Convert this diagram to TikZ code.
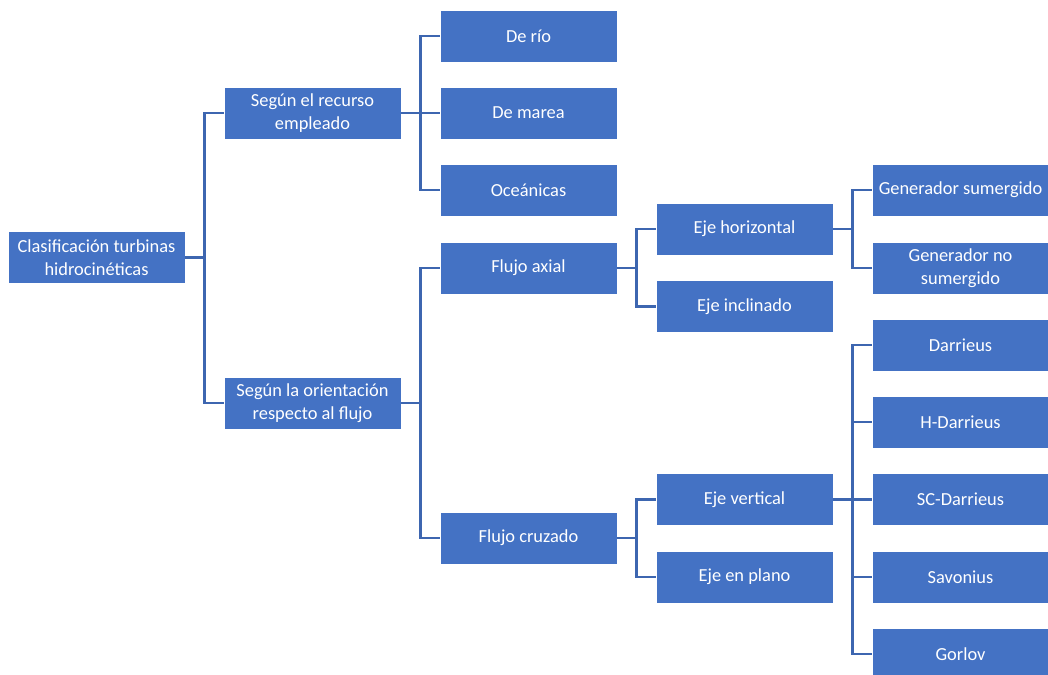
\documentclass[tikz,border=0pt]{standalone}
\usepackage{fontspec}
\setmainfont{Carlito}
\definecolor{boxblue}{HTML}{4472C4}
\definecolor{lineblue}{HTML}{3D66B0}
\begin{document}
\begin{tikzpicture}[x=1pt,y=-1pt,
  box/.style={fill=boxblue, draw=white, line width=0.8pt, text=white, anchor=west,
    minimum width=177pt, minimum height=52pt, inner sep=2pt, outer sep=0pt,
    align=center, font=\fontsize{18.4}{22.4}\selectfont},
  conn/.style={draw=lineblue, line width=2.6pt}]
\useasboundingbox (0,0) rectangle (1048,674);
\clip (0,0) rectangle (1048,674);
% level 0
\node[box] (root) at (8,257.5) {Clasificación turbinas\\hidrocinéticas};
% level 1
\node[box] (rec) at (224,113) {Según el recurso\\empleado};
\node[box] (ori) at (224,403) {Según la orientación\\respecto al flujo};
% level 2
\node[box] (rio) at (440,36) {De río};
\node[box] (mar) at (440,113) {De marea};
\node[box] (oce) at (440,190) {Oceánicas};
\node[box] (axi) at (440,268) {Flujo axial};
\node[box] (cru) at (440,538) {Flujo cruzado};
% level 3
\node[box] (hor) at (656,229) {Eje horizontal};
\node[box] (inc) at (656,306.5) {Eje inclinado};
\node[box] (ver) at (656,499.5) {Eje vertical};
\node[box] (pla) at (656,577) {Eje en plano};
% level 4
\node[box] (gsu) at (872,190) {Generador sumergido};
\node[box] (gns) at (872,268) {Generador no\\sumergido};
\node[box] (dar) at (872,345) {Darrieus};
\node[box] (hda) at (872,422) {H-Darrieus};
\node[box] (scd) at (872,499.5) {SC-Darrieus};
\node[box] (sav) at (872,577) {Savonius};
\node[box] (gor) at (872,654) {Gorlov};
% connectors
\foreach \p/\c in {root/rec,root/ori,rec/rio,rec/mar,rec/oce,ori/axi,ori/cru,
  axi/hor,axi/inc,cru/ver,cru/pla,hor/gsu,hor/gns,ver/dar,ver/hda,ver/scd,ver/sav,ver/gor}
  \draw[conn] (\p.east) -- ++(19.5,0) |- (\c.west);
\end{tikzpicture}
\end{document}
